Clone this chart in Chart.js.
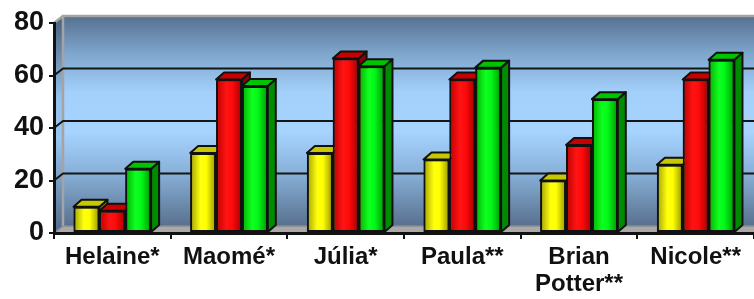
<!DOCTYPE html>
<html>
<head>
<meta charset="utf-8">
<script src="https://cdn.jsdelivr.net/npm/chart.js@4/dist/chart.umd.min.js"></script>
<style>
  html, body { margin: 0; padding: 0; background: #ffffff; }
  canvas { display: block; }
</style>
</head>
<body>
<canvas id="c" width="754" height="299"></canvas>
<script>
// ---- data ----
const categories = ['Helaine*', 'Maomé*', 'Júlia*', 'Paula**', 'Brian Potter**', 'Nicole**'];
const seriesYellow = [10, 30.5, 30.5, 28, 20, 26];
const seriesRed    = [8.5, 58.5, 66.5, 58.5, 33.5, 58.5];
const seriesGreen  = [24.5, 56, 63.5, 63, 51, 66];
const yTicks = [0, 20, 40, 60, 80];

// ---- styles ----
const CAT_PCT = 0.665;
const WALL = { dx: 9, dy: 7 };
const BAR = { dx: 8, dy: 7 };
const frontColors = [
  ['#a0a000', '#ffff10', '#ffff00', '#949400'],
  ['#bc0000', '#ff1414', '#ff0a0a', '#a40000'],
  ['#00b000', '#10ff20', '#00f818', '#009600']
];
const topColors = ['#c8c800', '#c80000', '#00c400'];
const sideColors = ['#8c8c00', '#900000', '#008c00'];

function frontFill(idx) {
  const cols = frontColors[idx];
  return function (c) {
    if (c.type !== 'data') return cols[1];
    const xs = c.chart.scales.x;
    if (!xs || !isFinite(xs.width) || xs.width <= 0) return cols[1];
    const catW = xs.width / categories.length;
    const barW = catW * CAT_PCT / 3;
    const center = xs.getPixelForValue(c.dataIndex);
    const L = center - catW * CAT_PCT / 2 + c.datasetIndex * barW;
    const g = c.chart.ctx.createLinearGradient(L, 0, L + barW, 0);
    g.addColorStop(0, cols[0]);
    g.addColorStop(0.4, cols[1]);
    g.addColorStop(0.62, cols[2]);
    g.addColorStop(1, cols[3]);
    return g;
  };
}

const wallPlugin = {
  id: 'wall3d',
  beforeDraw(chart) {
    const ctx = chart.ctx;
    const a = chart.chartArea;
    const ys = chart.scales.y;
    const L = a.left, R = a.right, T = a.top, B = a.bottom;
    ctx.save();
    // back wall gradient
    const g = ctx.createLinearGradient(0, T - WALL.dy, 0, B - WALL.dy);
    g.addColorStop(0, '#55708f');
    g.addColorStop(0.18, '#7fa6cc');
    g.addColorStop(0.36, '#a2d0fa');
    g.addColorStop(0.55, '#a6d4ff');
    g.addColorStop(0.75, '#88b0d8');
    g.addColorStop(1, '#58708e');
    ctx.fillStyle = g;
    ctx.fillRect(L + WALL.dx, T - WALL.dy, R - L, B - T);
    // side wall
    const gs = ctx.createLinearGradient(0, T, 0, B);
    gs.addColorStop(0, '#4d6683');
    gs.addColorStop(0.36, '#95c2ec');
    gs.addColorStop(0.55, '#98c6f0');
    gs.addColorStop(1, '#52698a');
    ctx.fillStyle = gs;
    ctx.beginPath();
    ctx.moveTo(L, T); ctx.lineTo(L + WALL.dx, T - WALL.dy);
    ctx.lineTo(L + WALL.dx, B - WALL.dy); ctx.lineTo(L, B);
    ctx.closePath(); ctx.fill();
    // floor
    ctx.fillStyle = '#a9a9a9';
    ctx.beginPath();
    ctx.moveTo(L, B); ctx.lineTo(L + WALL.dx, B - WALL.dy);
    ctx.lineTo(R + WALL.dx, B - WALL.dy); ctx.lineTo(R, B);
    ctx.closePath(); ctx.fill();
    ctx.strokeStyle = '#8a8a8a';
    ctx.lineWidth = 1.5;
    ctx.beginPath();
    ctx.moveTo(L, B); ctx.lineTo(L + WALL.dx, B - WALL.dy); ctx.lineTo(R + WALL.dx, B - WALL.dy);
    ctx.stroke();
    // back corner and top frame
    ctx.strokeStyle = '#a4a4a4';
    ctx.lineWidth = 2.5;
    ctx.beginPath();
    ctx.moveTo(L + WALL.dx, B - WALL.dy); ctx.lineTo(L + WALL.dx, T - WALL.dy);
    ctx.lineTo(R + WALL.dx, T - WALL.dy);
    ctx.moveTo(L, T); ctx.lineTo(L + WALL.dx, T - WALL.dy);
    ctx.stroke();
    // grid lines on the back wall
    ctx.strokeStyle = '#151515';
    ctx.lineWidth = 2;
    yTicks.forEach(v => {
      if (v === yTicks[0] || v === yTicks[yTicks.length - 1]) return;
      const y = ys.getPixelForValue(v);
      ctx.beginPath();
      ctx.moveTo(L, y); ctx.lineTo(L + WALL.dx, y - WALL.dy); ctx.lineTo(R + WALL.dx, y - WALL.dy);
      ctx.stroke();
    });
    ctx.restore();
  },
  afterDatasetsDraw(chart) {
    const ctx = chart.ctx;
    const n = chart.data.labels.length;
    const nd = chart.data.datasets.length;
    ctx.save();
    for (let i = 0; i < n; i++) {
      for (let d = 0; d < nd; d++) {
        const el = chart.getDatasetMeta(d).data[i];
        if (!el) continue;
        const xl = el.x - el.width / 2, xr = el.x + el.width / 2;
        const t = Math.min(el.y, el.base), b = Math.max(el.y, el.base);
        ctx.lineJoin = 'round';
        ctx.lineWidth = 2;
        ctx.strokeStyle = '#111111';
        // side face
        ctx.fillStyle = sideColors[d];
        ctx.beginPath();
        ctx.moveTo(xr, t); ctx.lineTo(xr + BAR.dx, t - BAR.dy);
        ctx.lineTo(xr + BAR.dx, b - BAR.dy); ctx.lineTo(xr, b);
        ctx.closePath(); ctx.fill(); ctx.stroke();
        // top face
        ctx.fillStyle = topColors[d];
        ctx.beginPath();
        ctx.moveTo(xl, t); ctx.lineTo(xl + BAR.dx, t - BAR.dy);
        ctx.lineTo(xr + BAR.dx, t - BAR.dy); ctx.lineTo(xr, t);
        ctx.closePath(); ctx.fill(); ctx.stroke();
        // front face via the library element
        el.draw(ctx, chart.chartArea);
      }
    }
    ctx.restore();
  }
};

const FONT = "'Liberation Sans', Arial, Helvetica, sans-serif";

new Chart(document.getElementById('c'), {
  type: 'bar',
  data: {
    labels: categories,
    datasets: [
      { label: 'Série 1', data: seriesYellow, backgroundColor: frontFill(0) },
      { label: 'Série 2', data: seriesRed, backgroundColor: frontFill(1) },
      { label: 'Série 3', data: seriesGreen, backgroundColor: frontFill(2) }
    ]
  },
  options: {
    responsive: false,
    animation: false,
    devicePixelRatio: 1,
    layout: { padding: { top: 23, right: 0, left: 0, bottom: 0 } },
    datasets: {
      bar: {
        categoryPercentage: CAT_PCT,
        barPercentage: 1,
        borderWidth: 2,
        borderColor: '#111111',
        borderSkipped: false
      }
    },
    plugins: { legend: { display: false }, tooltip: { enabled: false } },
    scales: {
      x: {
        afterFit(s) { s.height = 66; },
        grid: { display: true, drawOnChartArea: false, drawTicks: true, tickLength: 6, color: '#111111', lineWidth: 2, offset: true },
        border: { display: true, color: '#111111', width: 3 },
        ticks: {
          padding: 5,
          color: '#111111',
          maxRotation: 0,
          autoSkip: false,
          font: { family: FONT, size: 24, weight: 'bold', lineHeight: 1.13 },
          callback(v, i) {
            const s = categories[i];
            return s.indexOf(' ') >= 0 ? s.split(' ') : s;
          }
        }
      },
      y: {
        min: yTicks[0],
        max: yTicks[yTicks.length - 1],
        afterFit(s) { s.width = 54; },
        afterBuildTicks(s) { s.ticks = yTicks.map(v => ({ value: v })); },
        grid: { display: true, drawOnChartArea: false, drawTicks: true, tickLength: 5, color: '#111111', lineWidth: 2 },
        border: { display: true, color: '#111111', width: 3 },
        ticks: {
          padding: 5,
          color: '#111111',
          font: { family: FONT, size: 27, weight: 'bold' }
        }
      }
    }
  },
  plugins: [wallPlugin]
});
</script>
</body>
</html>
